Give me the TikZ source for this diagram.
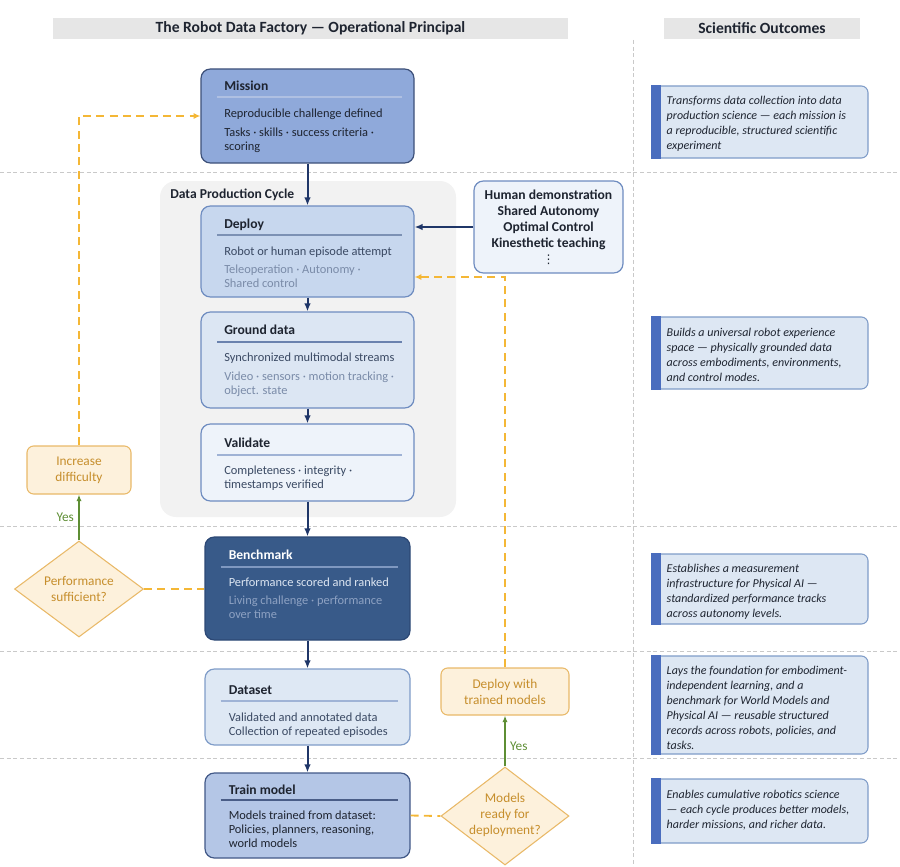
\documentclass[tikz,border=0pt]{standalone}
\usepackage{fontspec}
\setmainfont{Carlito}
\newfontfamily\dotsfont{DejaVu Sans}
\usetikzlibrary{arrows.meta,shapes.geometric,calc}

\definecolor{navyline}{HTML}{1F3668}
\definecolor{loopgold}{HTML}{F4B736}
\definecolor{yesgreen}{HTML}{5E8E34}
\definecolor{decfill}{HTML}{FDF1DC}
\definecolor{decdraw}{HTML}{E9B968}
\definecolor{dectext}{HTML}{C68E2C}
\definecolor{gridgray}{HTML}{C9C9C9}
\definecolor{headgray}{HTML}{E6E6E6}
\definecolor{cyclegray}{HTML}{F2F2F2}
\definecolor{missionfill}{HTML}{8FA9DA}
\definecolor{missiondraw}{HTML}{3D5079}
\definecolor{missionsep}{HTML}{AFC0E2}
\definecolor{deployfill}{HTML}{C7D7EE}
\definecolor{deploysep}{HTML}{7C91B4}
\definecolor{groundfill}{HTML}{DCE6F3}
\definecolor{groundsep}{HTML}{6A82AE}
\definecolor{validfill}{HTML}{EEF3FA}
\definecolor{validsep}{HTML}{9FB2D5}
\definecolor{stepdraw}{HTML}{6E8CC0}
\definecolor{benchfill}{HTML}{385A89}
\definecolor{benchdraw}{HTML}{2C4875}
\definecolor{benchsep}{HTML}{7F98C0}
\definecolor{benchmain}{HTML}{DDE6F2}
\definecolor{benchsub}{HTML}{8EA2C3}
\definecolor{datafill}{HTML}{DEE8F4}
\definecolor{datadraw}{HTML}{7F9CC8}
\definecolor{datasep}{HTML}{9FB3D6}
\definecolor{trainfill}{HTML}{B4C6E6}
\definecolor{traindraw}{HTML}{415887}
\definecolor{trainsep}{HTML}{4A5D87}
\definecolor{outfill}{HTML}{DDE7F3}
\definecolor{outaccent}{HTML}{4A6DBE}
\definecolor{slatetext}{HTML}{3A4963}
\definecolor{mutedtext}{HTML}{7A8BA8}
\definecolor{inktext}{HTML}{1E2430}

\newcommand{\cardtitlefont}{\fontsize{10.2}{12}\selectfont\bfseries}
\newcommand{\cardbodyfont}{\fontsize{9.3}{10.5}\selectfont}
\newcommand{\outcomefont}{\fontsize{9}{11.25}\selectfont\itshape}
\newcommand{\headfont}{\fontsize{11.7}{13}\selectfont\bfseries}
\newcommand{\decisionfont}{\fontsize{10}{12}\selectfont}

\begin{document}
\begin{tikzpicture}[x=0.75pt,y=-0.75pt]
\tikzstyle{cardbox}=[rectangle,rounded corners=7pt,line width=0.9pt,minimum width=159.75pt,inner sep=0pt]
\tikzstyle{lowcard}=[cardbox,minimum width=153.75pt]
\tikzstyle{cardtitle}=[anchor=west,inner sep=0pt,text height=7.5pt,text depth=2pt,font=\cardtitlefont,text=inktext]
\tikzstyle{cardtext}=[anchor=north west,inner sep=0pt,align=left,font=\cardbodyfont]
\tikzstyle{headbar}=[rectangle,fill=headgray,minimum height=15.75pt,inner sep=0pt,font=\headfont,text=inktext]
\tikzstyle{decision}=[diamond,aspect=1.34,fill=decfill,draw=decdraw,line width=0.8pt,inner sep=0pt]
\tikzstyle{decisiontext}=[align=center,inner sep=0pt,font=\decisionfont,text=dectext]
\tikzstyle{actionbox}=[rectangle,rounded corners=5pt,fill=decfill,draw=decdraw,line width=0.8pt,align=center,font=\decisionfont,text=dectext]
\tikzstyle{outcome}=[rectangle,rounded corners=5pt,fill=outfill,draw=datadraw,line width=0.8pt,minimum width=162pt,inner sep=0pt]
\tikzstyle{outcometext}=[anchor=north west,inner sep=0pt,align=left,font=\outcomefont,text=inktext]
\tikzstyle{navyarrow}=[-{Latex[length=6pt,width=5pt]},draw=navyline,line width=1.5pt]
\tikzstyle{loopline}=[draw=loopgold,line width=1.4pt,dash pattern=on 6pt off 4pt]
\tikzstyle{yesarrow}=[-{Latex[length=5pt,width=4pt]},draw=yesgreen,line width=1pt]
\tikzstyle{yeslabel}=[font=\decisionfont,text=yesgreen]
\tikzstyle{gridline}=[draw=gridgray,line width=0.6pt,dash pattern=on 3pt off 2pt]

\useasboundingbox (0,0) rectangle (900,867);

% lanes
\draw[gridline] (633,40) -- (633,867);
\draw[gridline] (0,172) -- (900,172);
\draw[gridline] (0,526) -- (900,526);
\draw[gridline] (0,651) -- (900,651);
\draw[gridline] (0,758) -- (900,758);

% headers
\node[headbar,minimum width=386.25pt] (headleft) at (310.5,28.5) {The Robot Data Factory — Operational Principal};
\node[headbar,minimum width=147pt] (headright) at (762,28.5) {Scientific Outcomes};

% data production cycle
\node[rectangle,rounded corners=12pt,fill=cyclegray,minimum width=222pt,minimum height=252pt] (cycle) at (308,349) {};
\node[anchor=west,inner sep=0pt,font=\cardtitlefont,text=inktext] (cyclelabel) at (170,195) {Data Production Cycle};

% mission
\node[cardbox,fill=missionfill,draw=missiondraw,minimum height=70.5pt] (mission) at (307.5,116) {};
\node[cardtitle] (missiontitle) at (224,87) {Mission};
\draw[missionsep,line width=1.2pt] (217,97) -- (402,97);
\node[cardtext,text=inktext] (missionmain) at (224,109) {Reproducible challenge defined};
\node[cardtext,text=inktext] (missionsub) at (224,128) {Tasks · skills · success criteria ·\\scoring};

% deploy
\node[cardbox,fill=deployfill,draw=stepdraw,minimum height=68.25pt] (deploy) at (307.5,251.5) {};
\node[cardtitle] (deploytitle) at (224,225) {Deploy};
\draw[deploysep,line width=1.2pt] (217,235) -- (402,235);
\node[cardtext,text=slatetext] (deploymain) at (224,247) {Robot or human episode attempt};
\node[cardtext,text=mutedtext] (deploysub) at (224,265) {Teleoperation · Autonomy ·\\Shared control};

% ground data
\node[cardbox,fill=groundfill,draw=stepdraw,minimum height=72pt] (ground) at (307.5,360) {};
\node[cardtitle] (groundtitle) at (224,331) {Ground data};
\draw[groundsep,line width=1.2pt] (217,342) -- (402,342);
\node[cardtext,text=slatetext] (groundmain) at (224,353) {Synchronized multimodal streams};
\node[cardtext,text=mutedtext] (groundsub) at (224,372) {Video · sensors · motion tracking ·\\object. state};

% validate
\node[cardbox,fill=validfill,draw=stepdraw,minimum height=57.75pt] (validate) at (307.5,462.5) {};
\node[cardtitle] (validatetitle) at (224,444) {Validate};
\draw[validsep,line width=1.2pt] (217,455) -- (402,455);
\node[cardtext,text=slatetext] (validatemain) at (224,466) {Completeness · integrity ·\\timestamps verified};

% benchmark
\node[lowcard,fill=benchfill,draw=benchdraw,minimum height=77.25pt] (benchmark) at (307.5,588.5) {};
\node[cardtitle,text=white] (benchmarktitle) at (228.5,556) {Benchmark};
\draw[benchsep,line width=1.2pt] (220.5,567) -- (397.5,567);
\node[cardtext,text=benchmain] (benchmarkmain) at (228.5,578) {Performance scored and ranked};
\node[cardtext,text=benchsub] (benchmarksub) at (228.5,596) {Living challenge · performance\\over time};

% dataset
\node[lowcard,fill=datafill,draw=datadraw,minimum height=57pt] (dataset) at (307.5,707) {};
\node[cardtitle] (datasettitle) at (228.5,691) {Dataset};
\draw[datasep,line width=1.2pt] (220.5,701) -- (397.5,701);
\node[cardtext,text=slatetext] (datasetmain) at (228.5,713) {Validated and annotated data\\Collection of repeated episodes};

% train model
\node[lowcard,fill=trainfill,draw=traindraw,minimum height=63.75pt] (train) at (307.5,815.5) {};
\node[cardtitle] (traintitle) at (228.5,791) {Train model};
\draw[trainsep,line width=1.2pt] (220.5,800) -- (397.5,800);
\node[cardtext,text=inktext] (trainmain) at (228.5,811) {Models trained from dataset:\\Policies, planners, reasoning,\\world models};

% human input modes
\node[rectangle,rounded corners=7pt,fill=validfill,draw=stepdraw,line width=0.9pt,minimum width=111.75pt,minimum height=69pt,inner sep=0pt] (human) at (548.5,227) {};
\node[align=center,inner sep=0pt,font=\cardtitlefont,text=inktext] (humantext) at (548.5,227) {Human demonstration\\Shared Autonomy\\Optimal Control\\Kinesthetic teaching\\{\dotsfont\mdseries\fontsize{9}{12}\selectfont ⋮}};

% decisions
\node[actionbox,minimum width=78pt,minimum height=36pt,inner sep=0pt] (increase) at (79,470) {Increase\\difficulty};
\node[decision,minimum width=96.75pt,minimum height=72pt] (sufficient) at (79,589) {};
\node[decisiontext] (sufficienttext) at (79,589) {Performance\\sufficient?};
\node[actionbox,minimum width=96pt,minimum height=35.25pt,inner sep=0pt] (deploywith) at (505,691.5) {Deploy with\\trained models};
\node[decision,aspect=1.31,minimum width=96pt,minimum height=73.5pt] (ready) at (505,816) {};
\node[decisiontext] (readytext) at (505,815) {Models\\ready for\\deployment?};

% outcomes
\node[outcome,minimum height=54pt] (outmission) at (760,122) {};
\fill[outaccent] (outmission.north west) rectangle ($(outmission.south west)+(10,0)$);
\node[outcometext] (outmissiontext) at ($(outmission.north west)+(15,10)$) {Transforms data collection into data\\production science — each mission is\\a reproducible, structured scientific\\experiment};
\node[outcome,minimum height=54pt] (outcycle) at (760,353) {};
\fill[outaccent] (outcycle.north west) rectangle ($(outcycle.south west)+(10,0)$);
\node[outcometext] (outcycletext) at ($(outcycle.north west)+(15,11)$) {Builds a universal robot experience\\space — physically grounded data\\across embodiments, environments,\\and control modes.};
\node[outcome,minimum height=52.5pt] (outbench) at (760,589) {};
\fill[outaccent] (outbench.north west) rectangle ($(outbench.south west)+(10,0)$);
\node[outcometext] (outbenchtext) at ($(outbench.north west)+(15,10)$) {Establishes a measurement\\infrastructure for Physical AI —\\standardized performance tracks\\across autonomy levels.};
\node[outcome,minimum height=73.5pt] (outdata) at (760,705) {};
\fill[outaccent] (outdata.north west) rectangle ($(outdata.south west)+(10,0)$);
\node[outcometext] (outdatatext) at ($(outdata.north west)+(15,10)$) {Lays the foundation for embodiment-\\independent learning, and a\\benchmark for World Models and\\Physical AI — reusable structured\\records across robots, policies, and\\tasks.};
\node[outcome,minimum height=48pt] (outtrain) at (760,811) {};
\fill[outaccent] (outtrain.north west) rectangle ($(outtrain.south west)+(10,0)$);
\node[outcometext] (outtraintext) at ($(outtrain.north west)+(15,11)$) {Enables cumulative robotics science\\— each cycle produces better models,\\harder missions, and richer data.};

% main flow
\draw[navyarrow] (mission) -- (deploy);
\draw[navyarrow] (deploy) -- (ground);
\draw[navyarrow] (ground) -- (validate);
\draw[navyarrow] (validate) -- (benchmark);
\draw[navyarrow] (benchmark) -- (dataset);
\draw[navyarrow] (dataset) -- (train);
\draw[navyarrow] (human.west) -- (deploy.east |- human.west);

% feedback loops
\draw[loopline] (sufficient.east) -- (benchmark.west |- sufficient.east);
\draw[yesarrow] (sufficient.north) -- node[yeslabel,left] (yesdifficulty) {Yes} (increase.south);
\draw[loopline,-{Latex[length=5pt,width=4.5pt]}] (increase.north) |- (mission.west);
\draw[loopline] (train.east) -- (ready.west);
\draw[yesarrow] (ready.north) -- node[yeslabel,right,pos=0.4] (yesdeploy) {Yes} (deploywith.south);
\draw[loopline,-{Latex[length=5pt,width=4.5pt]}] (deploywith.north) |- ($(deploy.east)+(0,25.5)$);
\end{tikzpicture}
\end{document}
